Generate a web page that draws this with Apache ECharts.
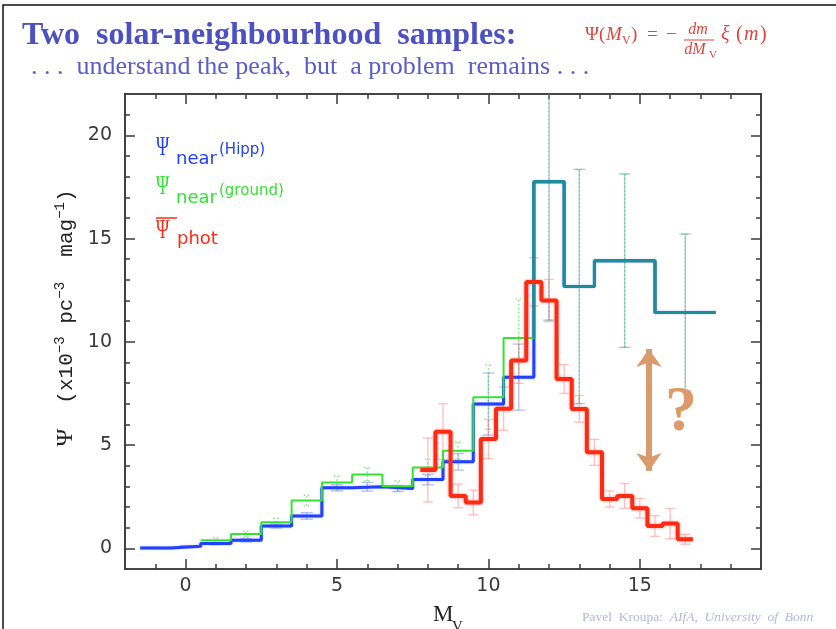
<!DOCTYPE html>
<html><head><meta charset="utf-8">
<script src="https://cdn.jsdelivr.net/npm/echarts@6/dist/echarts.min.js"></script>
<style>html,body{margin:0;padding:0;background:#fff}#c{width:836px;height:629px}</style>
</head><body><div id="c"></div>
<script>
// ---------------- data ----------------
const hippEdges   = [-1.5,-0.5,0.5,1.5,2.5,3.5,4.5,5.5,6.5,7.5,8.5,9.5,10.5,11.5,12.5,13.5,15.5,17.5];
const hippValues  = [0.02,0.10,0.23,0.39,1.08,1.57,2.93,2.98,2.90,3.33,4.19,6.99,8.29,17.75,12.68,13.93,11.42];
const hippErrors  = [0.02,0.03,0.05,0.08,0.10,0.16,0.15,0.21,0.15,0.25,0.40,1.50,1.60,6.70,5.67,4.20,3.80];

const groundEdges  = [0.5,1.5,2.5,3.5,4.5,5.5,6.5,7.5,8.5,9.5,10.5,11.5,12.5,13.5,15.5,17.5];
const groundValues = [0.39,0.69,1.26,2.32,3.19,3.58,3.01,3.92,4.72,7.32,10.18,17.75,12.68,13.93,11.42];
const groundErrors = [0.12,0.15,0.20,0.25,0.30,0.32,0.25,0.40,0.42,1.56,1.90,6.70,5.67,4.20,3.80];

const photEdges  = [7.75,8.25,8.75,9.25,9.75,10.25,10.75,11.25,11.75,12.25,12.75,13.25,13.75,14.25,14.75,15.25,15.75,16.25,16.75];
const photValues = [3.79,5.65,2.54,2.22,5.29,6.76,9.09,12.90,12.00,8.20,6.75,4.65,2.39,2.54,1.94,1.08,1.20,0.44];
const photErrors = [1.55,1.35,0.57,0.60,0.95,1.05,1.10,1.17,1.02,0.70,0.65,0.63,0.39,0.60,0.47,0.50,0.73,0.24];

const xMajorTicks = [0,5,10,15];
const xMinorTicks = [-1,0,1,2,3,4,5,6,7,8,9,10,11,12,13,14,15,16,17,18];
const yMajorTicks = [0,5,10,15,20];
const yMinorTicks = [0,1,2,3,4,5,6,7,8,9,10,11,12,13,14,15,16,17,18,19,20,21];

const arrowX = 15.3, arrowTop = 9.65, arrowBottom = 3.75;

// ---------------- helpers ----------------
const X_MIN = -2, X_MAX = 19, Y_MIN = -1, Y_MAX = 22;
function stepData(edges, values){
  const d = values.map((v,i)=>[edges[i], v]);
  d.push([edges[edges.length-1], values[values.length-1]]);
  return d;
}
function centers(edges){ return edges.slice(0,-1).map((e,i)=>(e+edges[i+1])/2); }

const common = [];
hippEdges.slice(0,-1).forEach((e,i)=>{
  const j = groundEdges.indexOf(e);
  if (j>=0 && groundEdges[j+1]===hippEdges[i+1] && groundValues[j]===hippValues[i]) common.push([i,j]);
});
const tealData = [];
if (common.length){
  const j0 = common[0][1];
  tealData.push([groundEdges[j0], groundValues[j0-1]]);
  common.forEach(([i])=>tealData.push([hippEdges[i], hippValues[i]]));
  const last = common[common.length-1][0];
  tealData.push([hippEdges[last+1], hippValues[last]]);
}

function errSeries(name, edges, values, errors, color, cap, dashed, z){
  const c = centers(edges);
  return {
    type:'custom', name, z, silent:true,
    data: c.map((x,i)=>[x, values[i]-errors[i], values[i]+errors[i]]),
    renderItem(params, api){
      const x = api.value(0);
      const lo = api.coord([x, api.value(1)]);
      const hi = api.coord([x, api.value(2)]);
      const cs = params.coordSys;
      const top = Math.max(hi[1], cs.y);
      const bot = Math.min(lo[1], cs.y+cs.height);
      const st = {stroke:color, lineWidth:1.4, lineDash: dashed ? [1.5,2.5] : null};
      const ch = [{type:'line', shape:{x1:lo[0], y1:bot, x2:hi[0], y2:top}, style:st}];
      if (hi[1] >= cs.y) ch.push({type:'line', shape:{x1:hi[0]-cap, y1:hi[1], x2:hi[0]+cap, y2:hi[1]}, style:st});
      if (lo[1] <= cs.y+cs.height) ch.push({type:'line', shape:{x1:lo[0]-cap, y1:lo[1], x2:lo[0]+cap, y2:lo[1]}, style:st});
      return {type:'group', children:ch};
    }
  };
}

const axisCol = '#3a3a3a';
function xAx(pos, ticks, len, labels){
  return { type:'value', min:X_MIN, max:X_MAX, position:pos,
    axisLine:{show:true, onZero:false, lineStyle:{color:axisCol, width:1.6}},
    axisTick:{show:true, inside:true, length:len, customValues:ticks, lineStyle:{color:axisCol, width:1.5}},
    axisLabel:{show:labels, customValues:ticks, margin:8, fontFamily:'DejaVu Sans', fontSize:19, color:'#3a3a3a'},
    splitLine:{show:false}};
}
function yAx(pos, ticks, len, labels){
  return { type:'value', min:Y_MIN, max:Y_MAX, position:pos,
    axisLine:{show:true, onZero:false, lineStyle:{color:axisCol, width:1.6}},
    axisTick:{show:true, inside:true, length:len, customValues:ticks, lineStyle:{color:axisCol, width:1.5}},
    axisLabel:{show:labels, customValues:ticks, margin:13, fontFamily:'DejaVu Sans', fontSize:19, color:'#3a3a3a'},
    splitLine:{show:false}};
}

function T(text, x, base, size, fill, opts){
  opts = opts || {};
  const fam = opts.family || '"Liberation Serif"';
  return {type:'text', x, y: base - 0.3*size, scaleX: opts.sx||1, z:100,
    style:{text, font:(opts.style||'')+' '+(opts.weight||'normal')+' '+size+'px '+fam, fill,
      textAlign: opts.align||'left', textVerticalAlign:'middle'}};
}

const blue = '#2140ff', green = '#33e233', red = '#ff2a12', teal = '#1b8f92';
const fr = '#e0443c';
const credit = '#b4b4e6';

const graphic = [
  {type:'polyline', z:100, shape:{points:[[3,629],[3,5],[836,5]]}, style:{stroke:'#111', lineWidth:1.5, fill:null}},
  T('Two  solar-neighbourhood  samples:', 22, 45, 32, '#4b50c2', {weight:'bold'}),
  T('. . .  understand the peak,  but  a problem  remains . . .', 31, 75, 26, '#5a5ccb'),
  // formula
  T('Ψ(', 585, 41, 19, fr),
  T('M', 606, 41, 19, fr, {style:'italic'}),
  T('V', 622, 44, 12, fr),
  T(')', 631, 41, 19, fr),
  T('=', 647, 41, 19, fr),
  T('−', 666, 41, 19, fr),
  T('dm', 698, 35, 16, fr, {style:'italic', align:'center'}),
  {type:'line', z:100, shape:{x1:684, y1:40, x2:714, y2:40}, style:{stroke:fr, lineWidth:1}},
  T('dM', 695, 55, 16, fr, {style:'italic', align:'center'}),
  T('V', 709, 58, 11, fr),
  T('ξ', 721, 41, 20, fr, {style:'italic'}),
  T('(', 736, 41, 20, fr),
  T('m', 744, 41, 20, fr, {style:'italic'}),
  T(')', 760, 41, 20, fr),
  // legend
  T('Ψ', 156, 156, 27, blue, {sx:0.66}),
  T('near', 176, 165, 18, blue, {family:'"DejaVu Sans"'}),
  T('(Hipp)', 219, 155, 15, blue, {family:'"DejaVu Sans"'}),
  T('Ψ', 156, 195, 27, green, {sx:0.66}),
  T('near', 176, 204, 18, green, {family:'"DejaVu Sans"'}),
  T('(ground)', 219, 196, 15, green, {family:'"DejaVu Sans"'}),
  {type:'line', z:100, shape:{x1:156, y1:218, x2:177, y2:218}, style:{stroke:red, lineWidth:1.5}},
  T('Ψ', 156, 239, 27, red, {sx:0.66}),
  T('phot', 177, 245, 18, red, {family:'"DejaVu Sans"'}),
  // question mark
  T('?', 681, 433, 64, '#dc9a68', {weight:'bold', align:'center'}),
  // x label
  T('M', 433, 622, 23, '#222'),
  T('V', 452, 632, 15, '#222'),
  // y label rotated
  {type:'text', x:66, y:318, rotation:Math.PI/2, z:100,
    style:{text:'{p|Ψ}{b|  (x10}{s|−3}{b| pc}{s|−3}{b|  mag}{s|−1}{b|)}', textAlign:'center', textVerticalAlign:'middle',
      rich:{p:{fontFamily:'"Liberation Serif"', fontSize:24, lineHeight:25, fill:'#222'},
            b:{fontFamily:'"Liberation Mono"', fontSize:21, lineHeight:25, fill:'#222'},
            s:{fontFamily:'"Liberation Mono"', fontSize:14, lineHeight:12, verticalAlign:'top', fill:'#222'}}}},
  // credit
  {type:'text', x:582, y:617, z:100, style:{text:'{a|Pavel  Kroupa:  }{b|AIfA,  University  of  Bonn}', textVerticalAlign:'middle',
    rich:{a:{fontFamily:'"Liberation Serif"', fontSize:13.5, fill:credit},
          b:{fontFamily:'"Liberation Serif"', fontStyle:'italic', fontSize:13.5, fill:credit}}}}
];

const chart = echarts.init(document.getElementById('c'), null, {renderer:'canvas'});
chart.setOption({
  animation:false,
  backgroundColor:'#ffffff',
  grid:{left:125, right:75, top:94, bottom:60, containLabel:false},
  xAxis:[ xAx('bottom', xMajorTicks, 10, true), xAx('bottom', xMinorTicks, 5, false),
          xAx('top', xMajorTicks, 10, false), xAx('top', xMinorTicks, 5, false)],
  yAxis:[ yAx('left', yMajorTicks, 10, true), yAx('left', yMinorTicks, 5, false),
          yAx('right', yMajorTicks, 10, false), yAx('right', yMinorTicks, 5, false)],
  series:[
    errSeries('hippErr', hippEdges, hippValues, hippErrors, 'rgba(110,140,235,0.5)', 6, false, 1),
    errSeries('groundErr', groundEdges, groundValues, groundErrors, 'rgba(60,215,60,0.65)', 3, true, 1),
    errSeries('photErr', photEdges, photValues, photErrors, 'rgba(255,120,120,0.45)', 5, false, 1),
    {type:'line', name:'hipp', data:stepData(hippEdges, hippValues), step:'end', showSymbol:false, z:3,
      lineStyle:{color:blue, width:3, shadowBlur:2, shadowColor:'rgba(40,70,255,0.4)'}},
    {type:'line', name:'ground', data:stepData(groundEdges, groundValues), step:'end', showSymbol:false, z:4,
      lineStyle:{color:green, width:2}},
    {type:'line', name:'both', data:tealData, step:'end', showSymbol:false, z:5,
      lineStyle:{color:teal, width:3}},
    {type:'line', name:'phot', data:stepData(photEdges, photValues), step:'end', showSymbol:false, z:6,
      lineStyle:{color:red, width:4, shadowBlur:3, shadowColor:'rgba(255,60,60,0.5)'},
      markLine:{silent:true, symbol:['arrow','arrow'], symbolSize:[19,18], label:{show:false},
        lineStyle:{color:'#d99a6c', width:6, type:'solid'},
        data:[[{coord:[arrowX, arrowTop]},{coord:[arrowX, arrowBottom]}]]}}
  ],
  graphic
});
</script></body></html>
